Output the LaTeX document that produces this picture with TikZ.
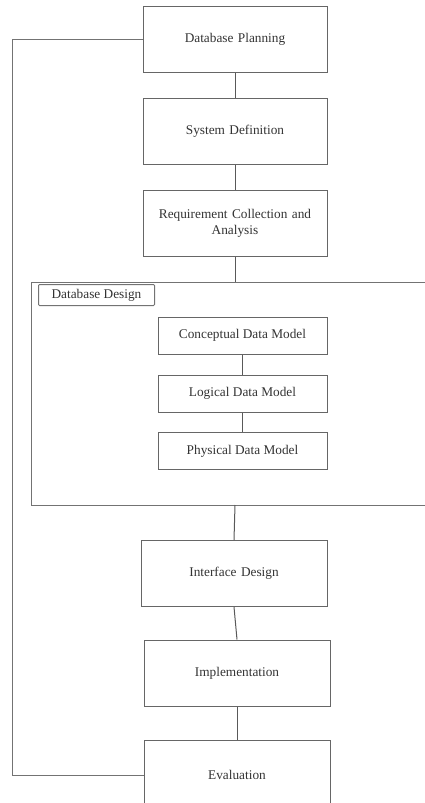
\documentclass[tikz,border=0pt]{standalone}
\usepackage{fontspec}
\setmainfont{Liberation Serif}
\begin{document}
\begin{tikzpicture}[x=1pt,y=-1pt,
  lbl/.style={text=black!80,font=\fontsize{13.3}{16}\selectfont},
  stage/.style={lbl,draw=black!60,line width=1pt,fill=white,minimum width=184pt,minimum height=66pt,inner sep=2pt,align=center,text width=178pt},
  sub/.style={lbl,draw=black!60,line width=1pt,fill=white,minimum width=169pt,minimum height=37pt,inner sep=2pt,align=center},
  link/.style={draw=black!65,line width=1pt},
  feed/.style={draw=black!55,line width=1pt}]
\clip (0,0) rectangle (425,803);
\fill[white] (0,0) rectangle (425,803);
% container
\node[draw=black!55,line width=1pt,minimum width=420pt,minimum height=223pt,anchor=north west,inner sep=0pt] (design) at (31,282) {};
\node[lbl,draw=black!55,line width=1pt,rounded corners=1pt,minimum width=116pt,minimum height=21pt,inner sep=1pt,anchor=north west] (dlabel) at (38,284) {Database Design};
% stages
\node[stage] (plan) at (235,39) {Database Planning};
\node[stage] (sysdef) at (235,131) {System Definition};
\node[stage] (req) at (235,223) {Requirement Collection and\\Analysis};
\node[sub] (concept) at (242.5,335.5) {Conceptual Data Model};
\node[sub] (logical) at (242.5,393.5) {Logical Data Model};
\node[sub] (physical) at (242.5,451) {Physical Data Model};
\node[stage,minimum width=186pt] (iface) at (234,573.5) {Interface Design};
\node[stage,minimum width=186pt] (impl) at (237,673) {Implementation};
\node[stage,minimum width=186pt,minimum height=70pt] (eval) at (237,775) {Evaluation};
\coordinate (dtop) at (235,282);
\coordinate (dbot) at (235,505);
% connectors
\draw[link] (plan.south) -- (sysdef.north);
\draw[link] (sysdef.south) -- (req.north);
\draw[link] (req.south) -- (dtop);
\draw[link] (concept.south) -- (logical.north);
\draw[link] (logical.south) -- (physical.north);
\draw[link] (dbot) -- (iface.north);
\draw[link] (iface.south) -- (impl.north);
\draw[link] (impl.south) -- (eval.north);
\draw[feed] (plan.west) -- (12,39) |- (eval.west);
\end{tikzpicture}
\end{document}
